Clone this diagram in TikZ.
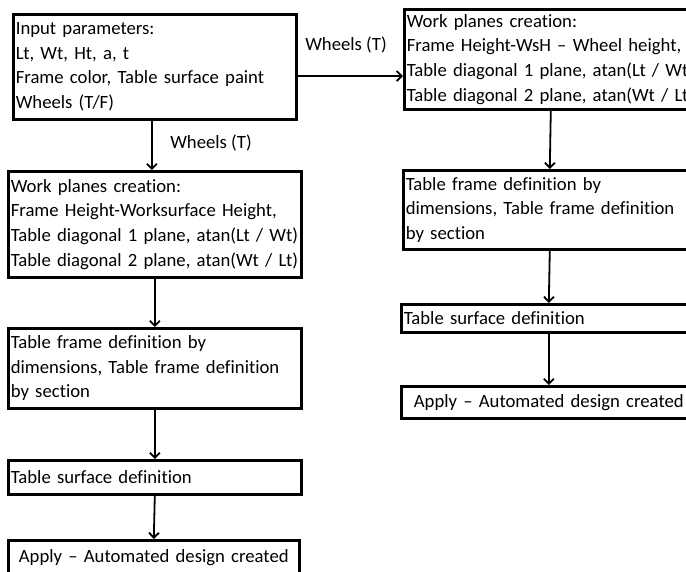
\documentclass[tikz,border=0pt]{standalone}
\usepackage{fontspec}
\setmainfont{Carlito}[Ligatures=NoCommon]
\usetikzlibrary{arrows.meta}
\begin{document}
\begin{tikzpicture}[x=1pt,y=-1pt,
  txtfont/.style={font=\fontsize{18.7}{24.6}\selectfont},
  box/.style={draw, line width=2.6pt, rectangle, anchor=north west,
    inner xsep=2.5pt, inner ysep=0pt, align=left, txtfont},
  lbl/.style={txtfont, inner sep=0pt},
  arr/.style={line width=1.8pt,
    -{Straight Barb[length=5pt,width=10pt,line width=1.8pt]}}]
\useasboundingbox (0,0) rectangle (686,571);
\begin{scope}
\clip (0,0) rectangle (686,571);
% left column
\node[box, minimum width=283pt, minimum height=105pt, text width=278pt] (in) at (12,13)
  {Input parameters:\\Lt, Wt, Ht, a, t\\Frame color, Table surface paint\\Wheels (T/F)};
\node[box, minimum width=293pt, minimum height=106pt, text width=288pt] (wp) at (7,170)
  {Work planes creation:\\Frame Height-Worksurface Height,\\Table diagonal 1 plane, atan(Lt / Wt)\\Table diagonal 2 plane, atan(Wt / Lt)};
\node[box, minimum width=293pt, minimum height=80pt, text width=288pt] (tf) at (7,327)
  {Table frame definition by\\dimensions, Table frame definition\\by section};
\node[box, minimum width=293pt, minimum height=34pt, text width=288pt] (ts) at (7,459)
  {Table surface definition};
\node[box, minimum width=291pt, minimum height=34pt, text width=286pt, align=center] (ap) at (7,539)
  {Apply – Automated design created};
% right column (runs past the right edge)
\node[box, minimum width=293pt, minimum height=100pt, text width=288pt] (rwp) at (403,8)
  {Work planes creation:\\Frame Height-WsH – Wheel height,\\Table diagonal 1 plane, atan(Lt / Wt)\\Table diagonal 2 plane, atan(Wt / Lt)};
\node[box, minimum width=293pt, minimum height=79pt, text width=288pt] (rtf) at (402,169)
  {Table frame definition by\\dimensions, Table frame definition\\by section};
\node[box, minimum width=295pt, minimum height=28pt, text width=290pt] (rts) at (400,303)
  {Table surface definition};
\node[box, minimum width=295pt, minimum height=32pt, text width=290pt, align=center] (rap) at (400,385)
  {Apply – Automated design created};
% connectors
\coordinate (hy) at (0,76);
\draw[arr] (in.east |- hy) -- (rwp.west |- hy);
\node[lbl] (l1) at (346,45) {Wheels (T)};
\draw[arr] ([xshift=-3pt]in.south) -- ([xshift=-3pt]in.south |- wp.north);
\node[lbl] (l2) at (211,143) {Wheels (T)};
\draw[arr] (wp.south) -- (tf.north);
\draw[arr] (tf.south) -- (ts.north);
\draw[arr] (ts.south) -- (ap.north);
\draw[arr] (rwp.south) -- (rtf.north);
\draw[arr] (rtf.south) -- (rts.north);
\draw[arr] (rts.south) -- (rap.north);
\end{scope}
\end{tikzpicture}
\end{document}
